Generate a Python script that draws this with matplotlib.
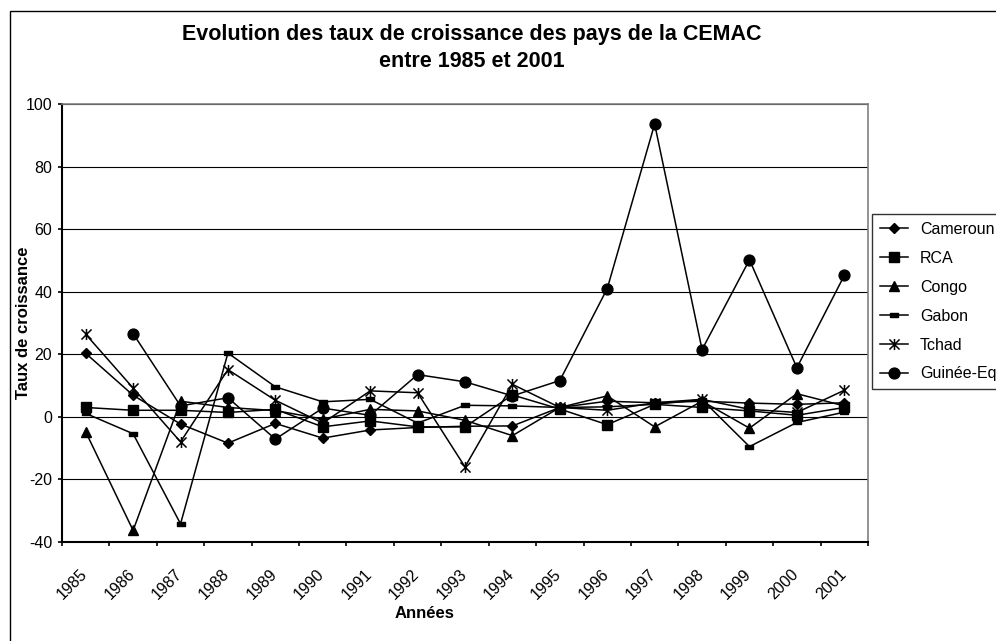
import numpy as np
import matplotlib
matplotlib.use("Agg")
import matplotlib.pyplot as plt
from matplotlib.path import Path
from matplotlib.patches import Rectangle
from matplotlib.transforms import ScaledTranslation

years = [str(y) for y in range(1985, 2002)]
cameroun = [20.3, 6.9, -2.3, -8.4, -2.1, -6.8, -4.2, -3.4, -3.0, -2.9, 3.0, 5.0, 4.5, 5.0, 4.4, 4.0, 4.5]
rca = [3.0, 2.1, 2.1, 1.4, 2.4, -3.2, -1.3, -3.2, -3.2, 7.0, 2.5, -2.5, 4.0, 3.0, 1.9, 0.5, 3.0]
congo = [-4.8, -36.3, 5.0, 3.0, 2.0, -0.7, 2.4, 1.9, -1.1, -6.0, 3.0, 6.7, -3.2, 5.0, -3.6, 7.4, 3.5]
gabon = [1.1, -5.4, -34.2, 20.4, 9.6, 4.8, 5.6, -2.0, 3.7, 3.5, 3.0, 3.2, 4.0, 5.5, -9.5, -1.8, 1.5]
tchad = [26.4, 9.2, -8.0, 15.1, 5.3, -2.0, 8.3, 7.7, -16.0, 10.4, 3.0, 2.1, 4.5, 5.6, 2.4, 1.4, 8.5]
guinee = [np.nan, 26.6, 3.5, 6.1, -7.1, 2.8, 0.5, 13.5, 11.2, 6.7, 11.6, 41.0, 93.6, 21.5, 50.2, 15.7, 45.2]
names = ["Cameroun", "RCA", "Congo", "Gabon", "Tchad", "Guinée-Eq"]
yticks = [-40, -20, 0, 20, 40, 60, 80, 100]

plt.rcParams['font.family'] = ['Liberation Sans', 'DejaVu Sans']

W, H = 996, 641
fig = plt.figure(figsize=(W / 100, H / 100), dpi=100)

# outer chart border (extends past right and bottom edges of the image)
fig.patches.append(Rectangle((10 / W, -0.2), 1.2, 1.2 - 11 / H,
                             transform=fig.transFigure, fill=False,
                             edgecolor='black', linewidth=1.0))

L, R, T, B = 62, 868, 104, 542
ax = fig.add_axes([L / W, 1 - B / H, (R - L) / W, (B - T) / H])

star = Path([(-1, -1), (1, 1), (-1, 1), (1, -1), (0, -1.1), (0, 1.1)],
            [Path.MOVETO, Path.LINETO, Path.MOVETO, Path.LINETO, Path.MOVETO, Path.LINETO])
dash = Path([(-1, -0.5), (1, -0.5), (1, 0.5), (-1, 0.5), (-1, -0.5)],
            [Path.MOVETO, Path.LINETO, Path.LINETO, Path.LINETO, Path.CLOSEPOLY])

styles = [
    dict(marker='D', markersize=5),
    dict(marker='s', markersize=7.2),
    dict(marker='^', markersize=7.5),
    dict(marker=dash, markersize=6),
    dict(marker=star, markersize=8, markeredgewidth=1.1),
    dict(marker='o', markersize=7.8),
]
series = [cameroun, rca, congo, gabon, tchad, guinee]
x = np.arange(len(years))
for s, st, nm in zip(series, styles, names):
    ax.plot(x, s, color='black', linewidth=1.1, markerfacecolor='black',
            markeredgecolor='black', label=nm, **st)

ax.set_xlim(-0.5, len(years) - 0.5)
ax.set_ylim(-40, 100)
ax.set_yticks(yticks)
ax.set_yticklabels([str(v) for v in yticks], fontsize=11.5)
ax.yaxis.grid(True, color='black', linewidth=0.8)
ax.set_axisbelow(True)

ax.set_xticks(x)
ax.set_xticklabels(years, rotation=45, ha='right', va='top',
                   rotation_mode='anchor', fontsize=11.5)
ax.tick_params(axis='x', which='major', length=0, pad=17.5)
off = ScaledTranslation(-6 / 100, 0, fig.dpi_scale_trans)
for lab in ax.get_xticklabels():
    lab.set_transform(lab.get_transform() + off)
ax.set_xticks(np.arange(-0.5, len(years) + 0.5, 1), minor=True)
ax.tick_params(axis='x', which='minor', length=3.2, width=1.2, direction='out')
ax.tick_params(axis='y', length=3.2, width=1.2, direction='out', pad=4)

for side in ['top', 'right']:
    ax.spines[side].set_color('#808080')
    ax.spines[side].set_linewidth(1.2)
for side in ['left', 'bottom']:
    ax.spines[side].set_color('black')
    ax.spines[side].set_linewidth(1.5)

fig.text(24 / W, 1 - 323 / H, "Taux de croissance", rotation=90, ha='center',
         va='center', fontsize=12, fontweight='bold')
fig.text(425 / W, 1 - 614 / H, "Années", ha='center', va='center',
         fontsize=12, fontweight='bold')
fig.text(472 / W, 1 - 48 / H,
         "Evolution des taux de croissance des pays de la CEMAC\nentre 1985 et 2001",
         ha='center', va='center', fontsize=15.5, fontweight='bold', linespacing=1.35)

leg = fig.legend(loc='upper left', bbox_to_anchor=(872 / W, 1 - 214 / H),
                 frameon=True, fancybox=False, edgecolor='black', fontsize=11.5,
                 labelspacing=0.87, handlelength=1.75, handletextpad=0.75,
                 borderpad=0.5, borderaxespad=0)
leg.get_frame().set_linewidth(1.0)

fig.savefig("out.png", dpi=100)
